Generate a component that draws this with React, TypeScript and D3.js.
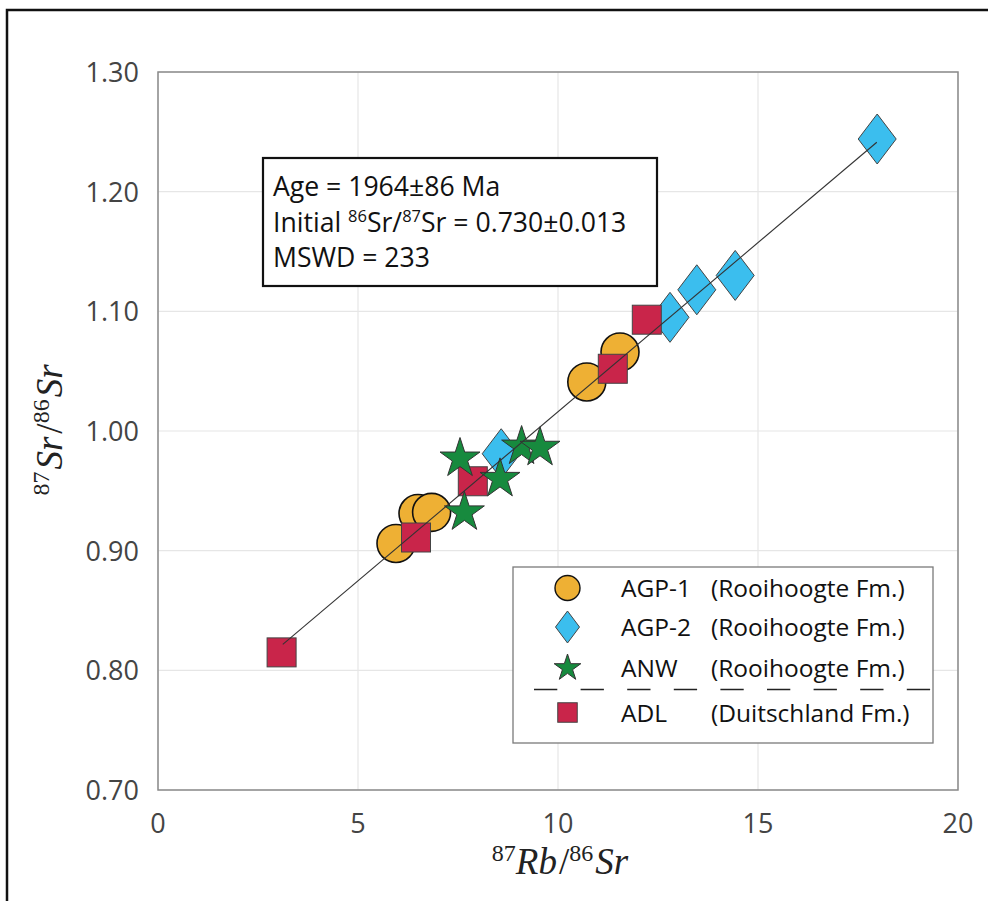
import React from "react";
import * as d3 from "d3";

// ---- data ----
const agp1X = [5.95, 6.5, 6.84, 10.72, 11.55];
const agp1Y = [0.906, 0.931, 0.932, 1.041, 1.066];
const agp2X = [8.58, 12.8, 13.47, 14.43, 17.98];
const agp2Y = [0.981, 1.095, 1.118, 1.13, 1.244];
const adlX = [3.09, 6.45, 7.87, 11.37, 12.22];
const adlY = [0.815, 0.911, 0.958, 1.052, 1.093];
const anwX = [7.55, 7.66, 8.55, 9.09, 9.55];
const anwY = [0.977, 0.932, 0.96, 0.987, 0.986];

const fitIntercept = 0.7335;
const fitSlope = 0.02826;
const fitRange = [3.12, 17.97];

const xTicks = [0, 5, 10, 15, 20];
const yTicks = [0.7, 0.8, 0.9, 1.0, 1.1, 1.2, 1.3];

const legendNames = ["AGP-1", "AGP-2", "ANW", "ADL"];
const legendFms = ["(Rooihoogte Fm.)", "(Rooihoogte Fm.)", "(Rooihoogte Fm.)", "(Duitschland Fm.)"];

const C_ORANGE = "#EEB034";
const C_BLUE = "#3BBEEE";
const C_GREEN = "#178A3E";
const C_RED = "#C9254A";

const W = 988;
const H = 901;
const x = d3.scaleLinear().domain([0, 20]).range([158, 958]);
const y = d3.scaleLinear().domain([0.7, 1.3]).range([790, 72]);

const SANS = "'Open Sans', 'Noto Sans', sans-serif";
const SERIF = "'Liberation Serif', 'DejaVu Serif', serif";

function starPath(cx: number, cy: number, R: number) {
  const r = R * 0.382;
  const pts: [number, number][] = [];
  for (let i = 0; i < 10; i++) {
    const a = -Math.PI / 2 + (i * Math.PI) / 5;
    const rr = i % 2 === 0 ? R : r;
    pts.push([cx + rr * Math.cos(a), cy + rr * Math.sin(a)]);
  }
  return d3.line()(pts)! + "Z";
}
function diamondPath(cx: number, cy: number, hw: number, hh: number) {
  return `M${cx},${cy - hh}L${cx + hw},${cy}L${cx},${cy + hh}L${cx - hw},${cy}Z`;
}

export default function App() {
  const fitLine = d3.line<number>()
    .x((d) => x(d))
    .y((d) => y(fitIntercept + fitSlope * d));

  const legX = 567.5;
  const legRows = [588, 627, 668, 712.5];

  return (
    <svg width={W} height={H} style={{ position: "absolute", left: 0, top: 0, background: "#fff" }}>
      <rect x={0} y={0} width={W} height={H} fill="#fff" />
      {/* outer frame */}
      <path d={`M7,${H + 5}L7,10L${W + 5},10`} fill="none" stroke="#111" strokeWidth={2.5} />

      {/* grid */}
      {xTicks.map((t) => (
        <line key={"gx" + t} x1={x(t)} x2={x(t)} y1={y(1.3)} y2={y(0.7)} stroke="#e6e6e6" strokeWidth={1.2} />
      ))}
      {yTicks.map((t) => (
        <line key={"gy" + t} x1={x(0)} x2={x(20)} y1={y(t)} y2={y(t)} stroke="#e6e6e6" strokeWidth={1.2} />
      ))}
      {/* plot box */}
      <rect x={x(0)} y={y(1.3)} width={x(20) - x(0)} height={y(0.7) - y(1.3)} fill="none" stroke="#8a8a8a" strokeWidth={1.5} />

      {/* tick labels */}
      {xTicks.map((t) => (
        <text key={"tx" + t} x={x(t)} y={833} textAnchor="middle" fontFamily={SANS} fontSize={27} fill="#444">
          {t}
        </text>
      ))}
      {yTicks.map((t) => (
        <text key={"ty" + t} x={139} y={y(t) + 10} textAnchor="end" fontFamily={SANS} fontSize={27} fill="#444">
          {t.toFixed(2)}
        </text>
      ))}

      {/* axis labels */}
      <text x={560} y={874} textAnchor="middle" fontFamily={SERIF} fill="#222">
        <tspan fontSize={24} dy={-13}>87</tspan>
        <tspan fontSize={37} fontStyle="italic" dy={13}>Rb</tspan>
        <tspan fontSize={37} dx={2}>/</tspan>
        <tspan fontSize={24} dy={-13}>86</tspan>
        <tspan fontSize={37} fontStyle="italic" dy={13} dx={2}>Sr</tspan>
      </text>
      <text transform={`translate(62,430) rotate(-90)`} textAnchor="middle" fontFamily={SERIF} fill="#222">
        <tspan fontSize={24} dy={-13}>87</tspan>
        <tspan fontSize={37} fontStyle="italic" dy={13} dx={2}>Sr</tspan>
        <tspan fontSize={37} dx={3}>/</tspan>
        <tspan fontSize={24} dy={-13}>86</tspan>
        <tspan fontSize={37} fontStyle="italic" dy={13} dx={2}>Sr</tspan>
      </text>

      {/* markers: circles, diamonds, squares, stars */}
      {agp1X.map((v, i) => (
        <circle key={"c" + i} cx={x(v)} cy={y(agp1Y[i])} r={19} fill={C_ORANGE} stroke="#111" strokeWidth={1.6} />
      ))}
      {agp2X.map((v, i) => (
        <path key={"d" + i} d={diamondPath(x(v), y(agp2Y[i]), 19, 25)} fill={C_BLUE} stroke="#444" strokeWidth={1} />
      ))}
      {adlX.map((v, i) => (
        <rect key={"s" + i} x={x(v) - 14.5} y={y(adlY[i]) - 14.5} width={29} height={29} fill={C_RED} stroke="#444" strokeWidth={1} />
      ))}
      {anwX.map((v, i) => (
        <path key={"st" + i} d={starPath(x(v), y(anwY[i]), 21)} fill={C_GREEN} stroke="#333" strokeWidth={1} />
      ))}

      {/* regression line */}
      <path d={fitLine(fitRange)!} fill="none" stroke="#333" strokeWidth={1.1} />

      {/* info box */}
      <rect x={263} y={158} width={394} height={128} fill="#fff" stroke="#111" strokeWidth={2.2} />
      <text x={273} y={196} fontFamily={SANS} fontSize={26.6} fill="#111">Age = 1964±86 Ma</text>
      <text x={273} y={232} fontFamily={SANS} fontSize={26.6} fill="#111">
        Initial <tspan fontSize={16.5} dy={-10}>86</tspan>
        <tspan dy={10}>Sr/</tspan>
        <tspan fontSize={16.5} dy={-10}>87</tspan>
        <tspan dy={10}>Sr = 0.730±0.013</tspan>
      </text>
      <text x={273} y={267} fontFamily={SANS} fontSize={26.6} fill="#111">MSWD = 233</text>

      {/* legend */}
      <rect x={513} y={567} width={420} height={176} fill="#fff" stroke="#7a7a7a" strokeWidth={1.3} />
      <circle cx={legX} cy={legRows[0]} r={12.5} fill={C_ORANGE} stroke="#111" strokeWidth={1.4} />
      <path d={diamondPath(legX, legRows[1], 12, 16)} fill={C_BLUE} stroke="#444" strokeWidth={1} />
      <path d={starPath(legX, legRows[2], 14)} fill={C_GREEN} stroke="#333" strokeWidth={1} />
      <rect x={legX - 9.75} y={legRows[3] - 9.75} width={19.5} height={19.5} fill={C_RED} stroke="#444" strokeWidth={1} />
      <line x1={513} x2={933} y1={689.5} y2={689.5} stroke="#222" strokeWidth={1.5} strokeDasharray="23.3 23.3" strokeDashoffset={-21} />
      {legendNames.map((n, i) => (
        <text key={"ln" + i} x={621} y={legRows[i] + 9} fontFamily={SANS} fontSize={24.5} fill="#111">{n}</text>
      ))}
      {legendFms.map((n, i) => (
        <text key={"lf" + i} x={711} y={legRows[i] + 9} fontFamily={SANS} fontSize={24.5} fill="#111">{n}</text>
      ))}
    </svg>
  );
}
